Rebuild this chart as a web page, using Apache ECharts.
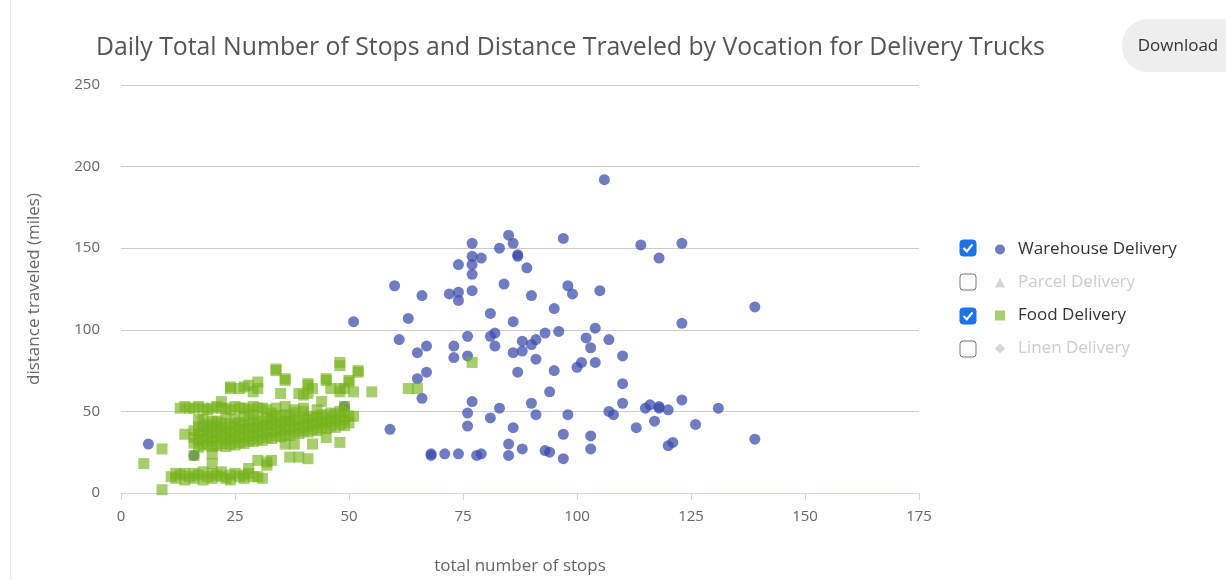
<!DOCTYPE html>
<html>
<head>
<meta charset="utf-8">
<script src="https://cdn.jsdelivr.net/npm/echarts@6/dist/echarts.min.js"></script>
<style>
  html, body { margin: 0; padding: 0; background: #fff; }
  #chart { width: 1226px; height: 580px; }
</style>
</head>
<body>
<div id="chart"></div>
<script>
// series names, in legend order
var seriesNames = ["Warehouse Delivery", "Parcel Delivery", "Food Delivery", "Linen Delivery"];
var xTicks = [0, 25, 50, 75, 100, 125, 150, 175];
var yTicks = [0, 50, 100, 150, 200, 250];

// [total number of stops, distance traveled (miles)]
var warehouseData = [
  [6,30],[16,23],[49,53],[59,39],[51,105],[60,127],[61,94],[63,107],[66,121],[65,86],
  [67,90],[67,74],[65,70],[66,58],[72,122],[74,123],[74,118],[74,140],[77,153],[77,145],
  [77,140],[77,134],[77,124],[79,144],[83,150],[84,128],[85,158],[86,153],[87,145],[87,146],
  [89,138],[90,121],[97,156],[98,127],[99,122],[105,124],[106,192],[95,113],[81,110],[86,105],
  [73,90],[76,96],[81,96],[82,98],[82,90],[88,93],[91,94],[93,98],[96,99],[86,86],
  [88,87],[90,91],[102,95],[104,101],[107,94],[103,89],[110,84],[73,83],[76,84],[91,82],
  [87,74],[95,75],[94,62],[100,77],[101,80],[104,80],[110,67],[110,55],[107,50],[108,48],
  [113,40],[77,56],[76,49],[76,41],[81,46],[83,52],[90,55],[91,48],[98,48],[86,40],
  [85,30],[88,27],[85,23],[93,26],[94,25],[97,21],[97,36],[103,35],[103,27],[68,23],
  [68,24],[71,24],[74,24],[78,23],[79,24],[114,152],[123,153],[118,144],[139,114],[123,104],
  [115,52],[116,54],[118,52],[118,53],[120,51],[123,57],[131,52],[117,44],[126,42],[120,29],
  [121,31],[139,33]
];

var parcelData = [];

var foodData = [
  // short routes
  [11,10],[12,12],[12,9],[13,11],[14,8],[14,12],[15,10],[16,9],[16,12],[17,11],
  [18,8],[18,13],[19,10],[20,12],[20,9],[21,11],[22,10],[22,13],[23,9],[24,11],
  [24,8],[25,12],[26,10],[27,11],[27,9],[28,12],[29,10],[30,10],[31,9],[28,15],
  [9,2],[5,18],[9,27],[16,23],[20,24],[20,18],[30,20],[32,17],[33,20],[32,19],
  [37,22],[39,22],[41,21],[36,30],[38,30],[42,30],[45,34],[48,31],
  // ~52 mile routes
  [13,52],[14,53],[15,52],[16,52],[17,53],[18,52],[19,51],[20,52],[21,53],[22,52],
  [23,52],[24,51],[25,53],[26,52],[27,52],[28,51],[29,53],[30,52],[31,52],[32,51],
  [34,52],[36,53],[38,51],[40,52],
  // main group
  [16,30.5],[16,34],[16,38.2],[17,28],[17,32.4],[17,36],[17,40.5],[17,45],[18,29.3],[18,33],
  [18,37.5],[18,41],[19,30],[19,34.6],[19,38],[19,42.3],[20,28.4],[20,32],[20,36.3],[20,40],
  [20,44],[21,29],[21,33.5],[21,37],[21,41.2],[22,30.2],[22,35],[22,39.4],[22,43],[23,28.5],
  [23,32],[23,36.4],[23,40],[23,46],[24,30],[24,34.2],[24,38],[24,42.5],[25,29.4],[25,33],
  [25,37.2],[25,41],[25,45.3],[26,31],[26,35.4],[26,39],[26,43.2],[27,30.3],[27,34],[27,38.5],
  [27,42],[27,47],[28,32],[28,36.2],[28,40],[28,44.4],[29,31.5],[29,35],[29,39.3],[29,43],
  [29,48],[30,33],[30,37.4],[30,41],[30,45],[31,32.2],[31,36],[31,40.3],[31,44],[32,34],
  [32,38.5],[32,42],[32,46.2],[33,33.4],[33,37],[33,41.5],[33,45],[33,49],[34,35],[34,39.2],
  [34,43],[34,47.4],[35,34.3],[35,38],[35,42.2],[35,46],[36,36],[36,40.4],[36,44],[36,48],
  [37,35.2],[37,39],[37,43.4],[37,47],[38,37],[38,41.3],[38,45],[38,49.2],[39,36.4],[39,40],
  [39,44.3],[40,38],[40,42.5],[40,46],[40,50],[41,37.3],[41,41],[41,45.2],[42,39],[42,43.4],
  [42,47],[43,38.2],[43,42],[43,46.3],[43,51],[44,40],[44,44.2],[44,48],[45,39.4],[45,43],
  [45,47.2],[46,41],[46,45.3],[46,49],[47,40.2],[47,44],[47,48.4],[48,42],[48,46.2],[48,50],
  [49,41.3],[49,45],[49,49.3],[49,53],[50,43],[50,47.2],
  // longer ones
  [14,36],[18,45],[21,44],[22,56],[24,64],[26,64],[24,65],[28,66],[30,68],[30,64],
  [27,65],[29,62],[34,75],[34,76],[36,70],[36,69],[35,61],[39,61],[40,60],[41,61],
  [41,66],[41,67],[42,64],[44,56],[45,69],[45,70],[46,64],[48,62],[48,64],[49,64],
  [50,69],[50,68],[51,62],[55,62],[48,80],[48,78],[52,74],[52,75],[63,64],[65,64],
  [77,80],[51,47]
];

var linenData = [];

var FONT = "'Open Sans', sans-serif";

var myChart = echarts.init(document.getElementById("chart"));

// little checkbox next to each legend row
function checkbox(y, checked) {
  var box = {
    type: "rect",
    shape: { x: 960, y: y - 8, width: 16, height: 16, r: 3 },
    style: checked ? { fill: "#1a73e8", stroke: "#1a73e8", lineWidth: 1 }
                   : { fill: "#fff", stroke: "#767676", lineWidth: 1 }
  };
  var items = [box];
  if (checked) {
    items.push({
      type: "polyline",
      shape: { points: [[963.5, y], [966.8, y + 3.4], [972.5, y - 3.6]] },
      style: { stroke: "#fff", lineWidth: 2.2, fill: null }
    });
  }
  return items;
}

var graphics = [
  {
    type: "line",
    shape: { x1: 10.5, y1: 0, x2: 10.5, y2: 580 },
    style: { stroke: "#e8e8e8", lineWidth: 1 }
  },
  {
    type: "rect",
    shape: { x: 1122, y: 19, width: 140, height: 53, r: 26 },
    style: { fill: "#eeeeee" }
  },
  {
    type: "text",
    x: 1178, y: 46,
    style: {
      text: "Download", fill: "#333", font: "17px " + FONT,
      textAlign: "center", textVerticalAlign: "middle"
    }
  }
].concat(checkbox(248, true), checkbox(282, false), checkbox(316, true), checkbox(349, false));

var option = {
  animation: false,
  textStyle: { fontFamily: FONT },
  title: {
    text: "Daily Total Number of Stops and Distance Traveled by Vocation for Delivery Trucks",
    left: 91,
    top: 30,
    textStyle: { color: "#555", fontSize: 24.8, fontWeight: "normal", fontFamily: FONT }
  },
  legend: {
    orient: "vertical",
    left: 990,
    top: 236,
    itemWidth: 10,
    itemHeight: 10,
    itemGap: 16,
    inactiveColor: "#cccccc",
    textStyle: { color: "#333", fontSize: 17, padding: [0, 0, 0, 8] },
    data: [
      { name: seriesNames[0], icon: "circle" },
      { name: seriesNames[1], icon: "triangle" },
      { name: seriesNames[2], icon: "rect" },
      { name: seriesNames[3], icon: "diamond" }
    ],
    selected: {
      "Warehouse Delivery": true,
      "Parcel Delivery": false,
      "Food Delivery": true,
      "Linen Delivery": false
    }
  },
  grid: { left: 121, right: 307, top: 85, bottom: 87, outerBoundsMode: "none" },
  xAxis: {
    type: "value",
    min: xTicks[0],
    max: xTicks[xTicks.length - 1],
    interval: 25,
    name: "total number of stops",
    nameLocation: "middle",
    nameGap: 65,
    nameTextStyle: { color: "#666", fontSize: 17 },
    axisLine: { show: true, lineStyle: { color: "#ccd6eb" } },
    axisTick: { show: true, length: 7, lineStyle: { color: "#ccd6eb" } },
    axisLabel: { color: "#666", fontSize: 15, margin: 16 },
    splitLine: { show: false }
  },
  yAxis: {
    type: "value",
    min: yTicks[0],
    max: yTicks[yTicks.length - 1],
    interval: 50,
    name: "distance traveled (miles)",
    nameLocation: "middle",
    nameGap: 78,
    nameTextStyle: { color: "#666", fontSize: 17 },
    axisLine: { show: false },
    axisTick: { show: false },
    axisLabel: { color: "#666", fontSize: 15, margin: 21 },
    splitLine: { show: true, lineStyle: { color: "#cccccc" } }
  },
  series: [
    {
      name: seriesNames[0],
      type: "scatter",
      symbol: "circle",
      symbolSize: 11,
      itemStyle: { color: "#3949ab", opacity: 0.72 },
      data: warehouseData
    },
    {
      name: seriesNames[1],
      type: "scatter",
      symbol: "triangle",
      symbolSize: 11,
      itemStyle: { color: "#90a4ae" },
      data: parcelData
    },
    {
      name: seriesNames[2],
      type: "scatter",
      symbol: "rect",
      symbolSize: 11,
      itemStyle: { color: "#76b31b", opacity: 0.64 },
      data: foodData
    },
    {
      name: seriesNames[3],
      type: "scatter",
      symbol: "diamond",
      symbolSize: 11,
      itemStyle: { color: "#9e9e9e" },
      data: linenData
    }
  ],
  graphic: graphics
};

myChart.setOption(option);
window.addEventListener("resize", function () {
  myChart.resize();
});
</script>
</body>
</html>
